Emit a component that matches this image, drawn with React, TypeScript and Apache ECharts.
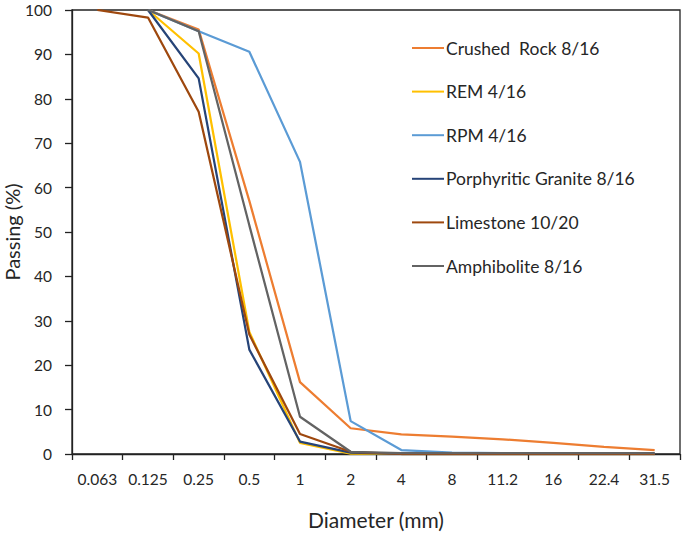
import React, { useEffect, useRef } from "react";
import * as echarts from "echarts";

const categories = ["0.063", "0.125", "0.25", "0.5", "1", "2", "4", "8", "11.2", "16", "22.4", "31.5"];
const crushedRock = [null, 100, 95.6, 57, 16.2, 5.8, 4.4, 3.9, 3.3, 2.5, 1.6, 0.9];
const rem = [null, 100, 90.2, 27.5, 2.5, 0.1, 0, 0, 0, 0, 0, 0];
const rpm = [null, 100, 95.2, 90.6, 65.8, 7.4, 0.9, 0.3, 0.2, 0.2, 0.2, 0.2];
const porphyritic = [null, 100, 84.6, 23.5, 2.8, 0.3, 0, 0, 0, 0, 0, 0];
const limestone = [100, 98.3, 77.1, 26.9, 4.5, 0.5, 0, 0, 0, 0, 0, 0];
const amphibolite = [null, 100, 95.2, 51.5, 8.4, 0.5, 0.2, 0.2, 0.2, 0.2, 0.2, 0.2];

const seriesNames = ["Crushed  Rock 8/16", "REM 4/16", "RPM 4/16", "Porphyritic Granite 8/16", "Limestone 10/20", "Amphibolite 8/16"];
const seriesData = [crushedRock, rem, rpm, porphyritic, limestone, amphibolite];
const seriesColors = ["#ED7D31", "#FFC000", "#5B9BD5", "#264478", "#9E480E", "#636363"];

const FONT = "Lato, 'Open Sans', sans-serif";
const TXT = "#262626";

export default function App() {
  const ref = useRef<HTMLDivElement>(null);
  useEffect(() => {
    if (!ref.current) return;
    const chart = echarts.init(ref.current, null, { renderer: "svg" });
    chart.setOption({
      animation: false,
      grid: {
        left: 72, right: 5, top: 10, bottom: 80,
        containLabel: false, outerBoundsMode: "none",
        show: true, borderColor: "#222", borderWidth: 1.3,
      },
      legend: {
        orient: "vertical",
        left: 407,
        top: 34,
        itemWidth: 32,
        itemHeight: 14,
        itemGap: 25.6,
        icon: "path://M0,6 L32,6 L32,8 L0,8 Z",
        textStyle: { fontFamily: FONT, fontSize: 17.5, color: TXT, padding: [0, 0, 0, -3] },
        data: seriesNames,
      },
      xAxis: {
        type: "category",
        data: categories,
        boundaryGap: true,
        name: "Diameter (mm)",
        nameLocation: "middle",
        nameGap: 55,
        nameMoveOverlap: false,
        nameTextStyle: { fontFamily: FONT, fontSize: 21, color: TXT },
        axisLine: { lineStyle: { color: "#222", width: 1.3 } },
        axisTick: { show: true, length: 6, interval: 0, lineStyle: { color: "#222", width: 1.3 } },
        axisLabel: { fontFamily: FONT, fontSize: 15.5, color: TXT, margin: 17, interval: 0 },
        splitLine: { show: false },
      },
      yAxis: {
        type: "value",
        min: 0,
        max: 100,
        interval: 10,
        name: "Passing (%)",
        nameLocation: "middle",
        nameGap: 50,
        nameMoveOverlap: false,
        nameRotate: 90,
        nameTextStyle: { fontFamily: FONT, fontSize: 20, color: TXT },
        axisLine: { show: true, lineStyle: { color: "#222", width: 1.3 } },
        axisTick: { show: true, length: 7, lineStyle: { color: "#222", width: 1.3 } },
        axisLabel: { fontFamily: FONT, fontSize: 15.5, color: TXT, margin: 20 },
        splitLine: { show: false },
      },
      series: seriesNames.map((name, i) => ({
        name,
        type: "line",
        data: seriesData[i],
        symbol: "none",
        connectNulls: false,
        lineStyle: { color: seriesColors[i], width: 2.25 },
        itemStyle: { color: seriesColors[i] },
      })),
    });
    return () => chart.dispose();
  }, []);
  return <div ref={ref} style={{ width: 685, height: 534, position: "absolute", left: 0, top: 0, background: "#fff" }} />;
}
